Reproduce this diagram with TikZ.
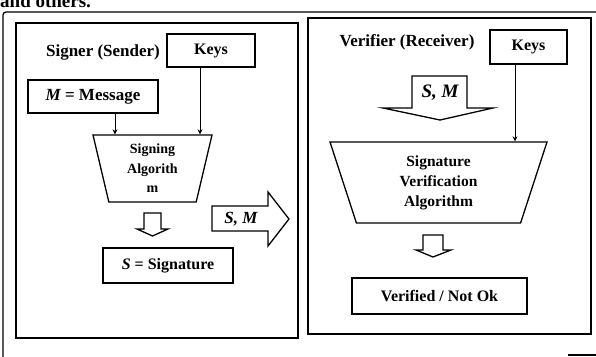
\documentclass[tikz,border=0pt]{standalone}
\usepackage{fontspec}
\setmainfont{Liberation Serif}
\usetikzlibrary{shapes.geometric,arrows.meta}

\begin{document}
\begin{tikzpicture}[x=1pt,y=-1pt,
	panel/.style={line width=1.3pt},
	box/.style={draw,line width=1.3pt,inner sep=0pt,font=\fontsize{16}{18}\selectfont\bfseries},
	algo/.style={draw,line width=1.3pt,trapezium,shape border rotate=180,trapezium stretches body,align=center,inner sep=0pt},
	feed/.style={line width=1pt,-{Stealth[length=5pt,width=5pt]}},
	hollow/.style={line width=1.3pt,line join=miter},
	title/.style={font=\fontsize{17}{19}\selectfont\bfseries}]
			\useasboundingbox (0,0) rectangle (596,356);
			\clip (0,0) rectangle (596,356);
			\node[anchor=base west,inner sep=0pt,font=\fontsize{19}{21}\selectfont\bfseries] (hdr) at (0,7) {and others.};
			\draw[panel,rounded corners=3pt] (3,12) rectangle (640,400);
			\draw[panel] (568,355) -- (600,355);
			\draw[panel] (16,23) rectangle (298,338);
			\draw[panel] (308,18) rectangle (591,334);
			\node[title] (signer) at (103,52) {Signer (Sender)};
			\node[box,minimum width=88,minimum height=33] (keysL) at (211,50.5) {Keys};
			\node[box,minimum width=130,minimum height=33,font=\fontsize{17}{19}\selectfont\bfseries] (msg) at (93,96.5) {\itshape M\upshape{} = Message};
			\node[algo,minimum width=119,minimum height=67,trapezium left angle=72,trapezium right angle=72,font=\fontsize{14}{19.5}\selectfont\bfseries] (signalg) at (152.5,168.5) {Signing\\Algorith\\m};
			\node[box,minimum width=130,minimum height=35] (sig) at (168,265.5) {\itshape S\upshape{} = Signature};
			\draw[feed] ([xshift=22]msg.south) -- ([xshift=22]msg.south |- signalg.north);
			\draw[feed] ([xshift=-11]keysL.south) -- ([xshift=-11]keysL.south |- signalg.north);
			\draw[hollow] (144,213) -- (161,213) -- (161,229) -- (168,229) -- (152.5,236) -- (137,229) -- (144,229) -- cycle;
			\draw[hollow] (212,206) -- (268,206) -- (268,192) -- (289,219) -- (268,246) -- (268,231) -- (212,231) -- cycle;
			\node[font=\fontsize{17}{19}\selectfont\bfseries\itshape] (smout) at (241,219) {S, M};
			\node[title] (verifier) at (407,42) {Verifier (Receiver)};
			\node[box,minimum width=77,minimum height=34] (keysR) at (528.5,47) {Keys};
			\draw[hollow] (412,76) -- (467,76) -- (467,108) -- (493,108) -- (440,120) -- (383,108) -- (412,108) -- cycle;
			\node[font=\fontsize{19}{21}\selectfont\bfseries\itshape] (smin) at (440,93) {S, M};
			\node[algo,minimum width=217,minimum height=81,trapezium left angle=64,trapezium right angle=64,font=\fontsize{15.5}{20}\selectfont\bfseries] (verialg) at (438.5,182.5) {Signature\\Verification\\Algorithm};
			\draw[feed] ([xshift=-13.5]keysR.south) -- ([xshift=-13.5]keysR.south |- verialg.north);
			\draw[hollow] (423,235) -- (443,235) -- (443,250) -- (451,250) -- (433,257) -- (416,250) -- (423,250) -- cycle;
			\node[box,minimum width=175,minimum height=36] (result) at (439.5,296) {Verified / Not Ok};
		\end{tikzpicture}
\end{document}
